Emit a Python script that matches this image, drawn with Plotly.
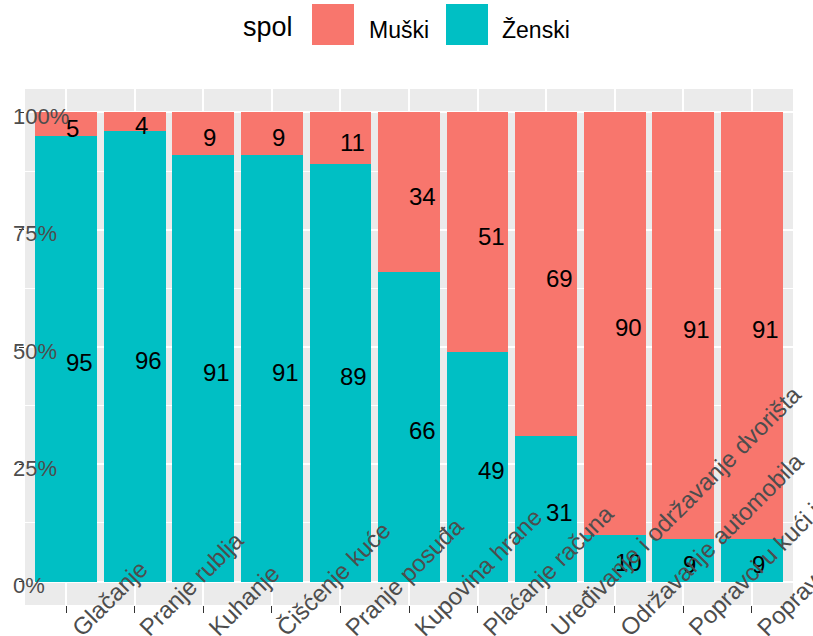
import plotly.graph_objects as go

# ---- data ----
categories = ["Glačanje", "Pranje rublja", "Kuhanje", "Čišćenje kuće", "Pranje posuđa",
              "Kupovina hrane", "Plaćanje računa", "Uređivanje i održavanje dvorišta",
              "Održavanje automobila", "Popravci u kući i stanu", "Popravci kućanskih aparata"]
muski = [5, 4, 9, 9, 11, 34, 51, 69, 90, 91, 91]
zenski = [95, 96, 91, 91, 89, 66, 49, 31, 10, 9, 9]
y_tick_vals = [0, 25, 50, 75, 100]
y_tick_text = ["0%", "25%", "50%", "75%", "100%"]
legend_title = "spol"
series_names = ["Muški", "Ženski"]

RED = "#F8766D"
TEAL = "#00BFC4"
FONT = "Liberation Sans, Arial, sans-serif"

W, H = 813, 636
ML, MR, MT, MB = 25, 20, 89, 31
PW = W - ML - MR
PH = H - MT - MB


def px2x(px):
    return (px - ML) / PW


def py2y(py):
    return (H - MB - py) / PH


fig = go.Figure()
fig.add_trace(go.Bar(x=categories, y=zenski, name=series_names[1], width=0.9,
                     marker=dict(color=TEAL, line=dict(width=0)), showlegend=False))
fig.add_trace(go.Bar(x=categories, y=muski, name=series_names[0], width=0.9,
                     marker=dict(color=RED, line=dict(width=0)), showlegend=False))

annotations = []
# value labels (left-aligned from bar centre, at middle of each stacked segment)
for c, z, m in zip(categories, zenski, muski):
    annotations.append(dict(x=c, y=z / 2, xref="x", yref="y", text=str(z), showarrow=False,
                            xanchor="left", yanchor="middle", xshift=-2, yshift=-4,
                            font=dict(family=FONT, size=24, color="black")))
    annotations.append(dict(x=c, y=z + m / 2, xref="x", yref="y", text=str(m), showarrow=False,
                            xanchor="left", yanchor="middle", xshift=-2, yshift=-4,
                            font=dict(family=FONT, size=24, color="black")))

# x category labels, rotated
for c in categories:
    annotations.append(dict(x=c, y=0, xref="x", yref="paper", text=c, showarrow=False,
                            textangle=-45, xanchor="left", yanchor="bottom",
                            xshift=-3, yshift=-39,
                            font=dict(family=FONT, size=24, color="#4D4D4D")))

# y tick labels
for v, t in zip(y_tick_vals, y_tick_text):
    annotations.append(dict(x=0, y=v, xref="paper", yref="y", text=t, showarrow=False,
                            xanchor="left", yanchor="middle", xshift=-14, yshift=-4,
                            font=dict(family=FONT, size=22, color="#4D4D4D")))

# legend
annotations.append(dict(x=px2x(241), y=py2y(27), xref="paper", yref="paper", text=legend_title,
                        showarrow=False, xanchor="left", yanchor="middle",
                        font=dict(family=FONT, size=27, color="black")))
annotations.append(dict(x=px2x(367), y=py2y(30), xref="paper", yref="paper", text=series_names[0],
                        showarrow=False, xanchor="left", yanchor="middle",
                        font=dict(family=FONT, size=23, color="black")))
annotations.append(dict(x=px2x(500), y=py2y(30), xref="paper", yref="paper", text=series_names[1],
                        showarrow=False, xanchor="left", yanchor="middle",
                        font=dict(family=FONT, size=23, color="black")))

shapes = [
    dict(type="rect", xref="paper", yref="paper", x0=px2x(312), x1=px2x(354),
         y0=py2y(45), y1=py2y(4), fillcolor=RED, line=dict(width=0)),
    dict(type="rect", xref="paper", yref="paper", x0=px2x(446), x1=px2x(488),
         y0=py2y(45), y1=py2y(4), fillcolor=TEAL, line=dict(width=0)),
]

fig.update_layout(
    width=W, height=H,
    margin=dict(l=ML, r=MR, t=MT, b=MB),
    barmode="stack",
    plot_bgcolor="#EBEBEB",
    paper_bgcolor="white",
    annotations=annotations,
    shapes=shapes,
    showlegend=False,
    xaxis=dict(range=[-0.6, len(categories) - 0.4], showgrid=True, gridcolor="white",
               gridwidth=1.5, showticklabels=False, ticks="outside", ticklen=7,
               tickcolor="#333333", tickwidth=1, zeroline=False, showline=False,
               fixedrange=True),
    yaxis=dict(range=[-5, 105], tickvals=y_tick_vals, showticklabels=False,
               showgrid=True, gridcolor="white", gridwidth=1.5,
               minor=dict(tickvals=[12.5, 37.5, 62.5, 87.5], showgrid=True,
                          gridcolor="white", gridwidth=0.7),
               ticks="outside", ticklen=5, tickcolor="#333333",
               zeroline=False, showline=False, fixedrange=True),
)

fig.write_html("out.html", config={"displayModeBar": False},
               post_script="document.body.style.margin='0';document.body.style.overflow='hidden';")
